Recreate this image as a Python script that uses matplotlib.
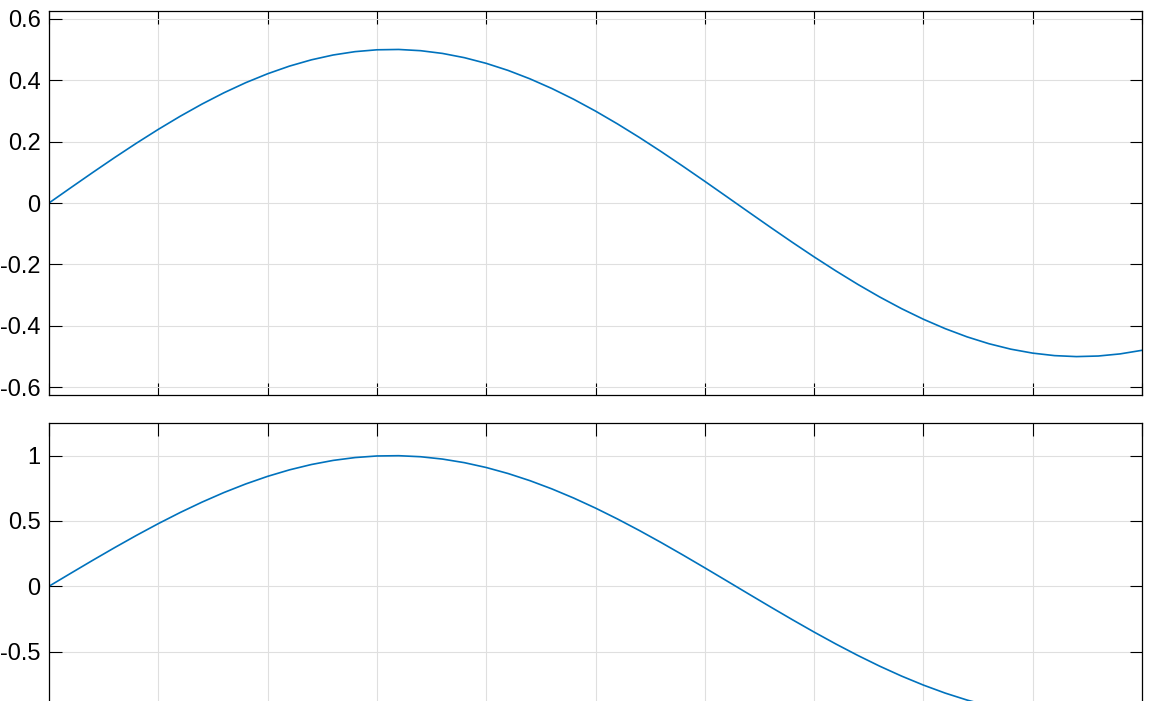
import matplotlib
matplotlib.use("Agg")
import matplotlib.pyplot as plt

plt.rcParams['font.family'] = ['Liberation Sans', 'DejaVu Sans']
plt.rcParams['axes.unicode_minus'] = False

x = [0.0, 0.1, 0.2, 0.3, 0.4, 0.5, 0.6, 0.7, 0.8, 0.9,
     1.0, 1.1, 1.2, 1.3, 1.4, 1.5, 1.6, 1.7, 1.8, 1.9,
     2.0, 2.1, 2.2, 2.3, 2.4, 2.5, 2.6, 2.7, 2.8, 2.9,
     3.0, 3.1, 3.2, 3.3, 3.4, 3.5, 3.6, 3.7, 3.8, 3.9,
     4.0, 4.1, 4.2, 4.3, 4.4, 4.5, 4.6, 4.7, 4.8, 4.9, 5.0]

y_top = [0.0, 0.0499, 0.0993, 0.1478, 0.1947, 0.2397, 0.2823, 0.3221, 0.3587, 0.3917,
         0.4207, 0.4456, 0.4660, 0.4818, 0.4927, 0.4987, 0.4998, 0.4958, 0.4869, 0.4731,
         0.4546, 0.4316, 0.4042, 0.3728, 0.3377, 0.2992, 0.2577, 0.2137, 0.1675, 0.1196,
         0.0706, 0.0208, -0.0292, -0.0789, -0.1278, -0.1754, -0.2212, -0.2649, -0.3059, -0.3439,
         -0.3784, -0.4091, -0.4358, -0.4581, -0.4758, -0.4887, -0.4968, -0.5000, -0.4981, -0.4912, -0.4795]

y_bot = [0.0, 0.0998, 0.1987, 0.2955, 0.3894, 0.4794, 0.5646, 0.6442, 0.7174, 0.7833,
         0.8415, 0.8912, 0.9320, 0.9636, 0.9854, 0.9975, 0.9996, 0.9917, 0.9738, 0.9463,
         0.9093, 0.8632, 0.8085, 0.7457, 0.6755, 0.5985, 0.5155, 0.4274, 0.3350, 0.2392,
         0.1411, 0.0416, -0.0584, -0.1577, -0.2555, -0.3508, -0.4425, -0.5298, -0.6119, -0.6878,
         -0.7568, -0.8183, -0.8716, -0.9162, -0.9516, -0.9775, -0.9937, -0.9999, -0.9962, -0.9825, -0.9589]

x_ticks = [0, 0.5, 1, 1.5, 2, 2.5, 3, 3.5, 4, 4.5, 5]
top_yticks = [-0.6, -0.4, -0.2, 0, 0.2, 0.4, 0.6]
top_ylabels = ['-0.6', '-0.4', '-0.2', '0', '0.2', '0.4', '0.6']
bot_yticks = [-1, -0.5, 0, 0.5, 1]
bot_ylabels = ['', '-0.5', '0', '0.5', '1']

W, H = 1167, 701
fig = plt.figure(figsize=(W / 100, H / 100), dpi=100)

line_color = '#0072BD'
grid_color = '#dfdfdf'


def style(ax, yticks, ylabels, ylim):
    ax.set_xlim(0, 5)
    ax.set_ylim(*ylim)
    ax.set_xticks(x_ticks)
    ax.set_xticklabels([])
    ax.set_yticks(yticks)
    ax.set_yticklabels(ylabels)
    ax.grid(True, color=grid_color, linewidth=0.8)
    ax.set_axisbelow(True)
    ax.tick_params(direction='in', length=9, width=0.8, top=True, right=True,
                   labelsize=17, pad=6, colors='black')
    for s in ax.spines.values():
        s.set_linewidth(0.9)
        s.set_color('black')


ax1 = fig.add_axes([49 / W, (H - 395) / H, 1093 / W, 384 / H])
ax1.plot(x, y_top, color=line_color, linewidth=1.2)
style(ax1, top_yticks, top_ylabels, (-0.625, 0.625))

ax2 = fig.add_axes([49 / W, (H - 749.5) / H, 1093 / W, 326.5 / H])
ax2.plot(x, y_bot, color=line_color, linewidth=1.2)
style(ax2, bot_yticks, bot_ylabels, (-1.25, 1.25))

fig.savefig('out.png', dpi=100)
